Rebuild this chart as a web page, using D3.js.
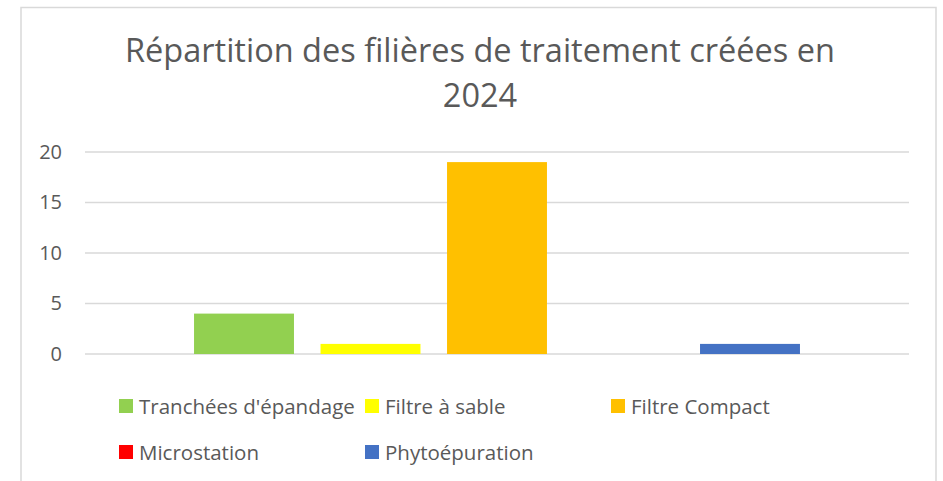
<!DOCTYPE html>
<html>
<head>
<meta charset="utf-8">
<script src="https://cdn.jsdelivr.net/npm/d3@7"></script>
<style>
  body { margin: 0; background: #fff; }
  svg { display: block; font-family: "Open Sans", sans-serif; }
</style>
</head>
<body>
<div class="vis"></div>
<script>
// data
var series = ["Tranchées d'épandage", "Filtre à sable", "Filtre Compact", "Microstation", "Phytoépuration"];
var values = [4, 1, 19, 0, 1];
var colors = ["#92D050", "#FFFF00", "#FFC000", "#FF0000", "#4472C4"];
var yTicks = [0, 5, 10, 15, 20];
var titleLines = ["Répartition des filières de traitement créées en", "2024"];

var W = 943, H = 481;
var plot = { left: 85, right: 909, top: 152, bottom: 354 };

var svg = d3.select(".vis")
    .append("svg")
    .attr("width", W)
    .attr("height", H);

// chart frame
svg.append("rect")
    .attr("x", 21)
    .attr("y", 7.5)
    .attr("width", 915)
    .attr("height", 500)
    .attr("fill", "#fff")
    .attr("stroke", "#d9d9d9")
    .attr("stroke-width", 1.5);

// title
svg.append("g").selectAll("text")
    .data(titleLines)
    .enter()
    .append("text")
    .attr("x", 480)
    .attr("y", (d, i) => 62 + i * 45)
    .attr("text-anchor", "middle")
    .attr("fill", "#595959")
    .style("font-size", "32.5px")
    .text(d => d);

var y = d3.scaleLinear().domain([0, 20]).range([plot.bottom, plot.top]);
var x = d3.scaleBand()
    .domain(series)
    .range([plot.left, plot.right])
    .paddingInner(0.21)
    .paddingOuter(0.862);

// gridlines
svg.append("g").selectAll("line")
    .data(yTicks)
    .enter()
    .append("line")
    .attr("x1", plot.left)
    .attr("x2", plot.right)
    .attr("y1", d => y(d))
    .attr("y2", d => y(d))
    .attr("stroke", "#d9d9d9")
    .attr("stroke-width", 1.5);

// y axis labels
var yAxis = svg.append("g")
    .attr("transform", "translate(" + (plot.left - 23) + ",0)")
    .call(d3.axisLeft(y).tickValues(yTicks).tickSize(0).tickPadding(0));
yAxis.select(".domain").remove();
yAxis.selectAll("text")
    .attr("fill", "#595959")
    .style("font-size", "20px")
    .style("font-family", "Open Sans, sans-serif");

// bars
svg.append("g").selectAll("rect")
    .data(series)
    .enter()
    .append("rect")
    .attr("x", d => x(d))
    .attr("width", x.bandwidth())
    .attr("y", (d, i) => y(values[i]))
    .attr("height", (d, i) => y(0) - y(values[i]))
    .attr("fill", (d, i) => colors[i]);

// legend
var legend = svg.append("g").selectAll("g")
    .data(series)
    .enter()
    .append("g")
    .attr("transform", (d, i) => "translate(" + (119 + (i % 3) * 246) + "," + (406 + Math.floor(i / 3) * 46) + ")");

legend.append("rect")
    .attr("x", 0)
    .attr("y", -7)
    .attr("width", 14)
    .attr("height", 14)
    .attr("fill", (d, i) => colors[i]);

legend.append("text")
    .attr("x", 20)
    .attr("y", 7.5)
    .attr("fill", "#595959")
    .style("font-size", "20.5px")
    .text(d => d);
</script>
</body>
</html>
